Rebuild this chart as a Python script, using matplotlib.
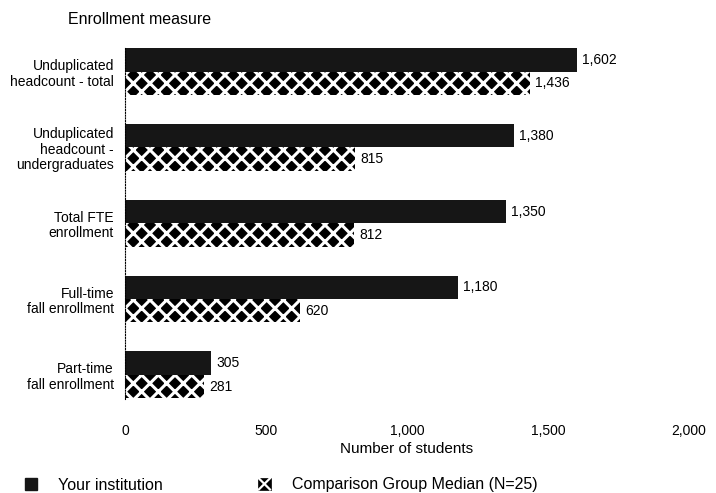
import matplotlib
matplotlib.use("Agg")
import matplotlib.pyplot as plt
from matplotlib.patches import Patch, Rectangle
from matplotlib.lines import Line2D
from matplotlib.legend_handler import HandlerBase
import numpy as np

plt.rcParams['font.family'] = ['Liberation Sans', 'DejaVu Sans']
plt.rcParams['hatch.linewidth'] = 2.2

categories = ["Unduplicated\nheadcount - total",
              "Unduplicated\nheadcount -\nundergraduates",
              "Total FTE\nenrollment",
              "Full-time\nfall enrollment",
              "Part-time\nfall enrollment"]
your_inst = [1602, 1380, 1350, 1180, 305]
comparison = [1436, 815, 812, 620, 281]
xticks = [0, 500, 1000, 1500, 2000]
xtick_labels = ["0", "500", "1,000", "1,500", "2,000"]

DARK = '#161616'


class HandlerBoxX(HandlerBase):
    def create_artists(self, legend, orig_handle, xdescent, ydescent,
                       width, height, fontsize, trans):
        s = min(width, height) * 1.1
        x0 = -xdescent + (width - s) / 2
        y0 = -ydescent + (height - s) / 2
        r = Rectangle((x0, y0), s, s, facecolor='black', edgecolor='black',
                      lw=0.5, transform=trans)
        l1 = Line2D([x0 + 0.5, x0 + s - 0.5], [y0 + 0.5, y0 + s - 0.5],
                    color='white', lw=1.6, transform=trans)
        l2 = Line2D([x0 + 0.5, x0 + s - 0.5], [y0 + s - 0.5, y0 + 0.5],
                    color='white', lw=1.6, transform=trans)
        return [r, l1, l2]


W, H = 716, 493
fig = plt.figure(figsize=(W / 100, H / 100), dpi=100)
ax = fig.add_axes([125 / W, (H - 399) / H, 564 / W, 351.5 / H])

y = np.arange(len(categories))
h = 0.31
ax.barh(y - h / 2, your_inst, height=h, color=DARK, edgecolor=DARK, linewidth=0)
ax.barh(y + h / 2, comparison, height=h, color='black', edgecolor='white', hatch='xx', linewidth=0)

for yi, v in zip(y, your_inst):
    ax.text(v + 18, yi - h / 2, f"{v:,}", va='center', ha='left', fontsize=10)
for yi, v in zip(y, comparison):
    ax.text(v + 18, yi + h / 2, f"{v:,}", va='center', ha='left', fontsize=10)

ax.set_xlim(0, 2000)
ax.set_ylim(len(categories) - 1 + 0.32, -0.32)
ax.set_yticks(y)
ax.set_yticklabels(categories, fontsize=10, ha='right', multialignment='right',
                   linespacing=1.15)
ax.set_xticks(xticks)
ax.set_xticklabels(xtick_labels, fontsize=10)
ax.tick_params(axis='both', length=0)
ax.tick_params(axis='y', pad=8)
ax.tick_params(axis='x', pad=18)
for s in ['top', 'right', 'bottom']:
    ax.spines[s].set_visible(False)
ax.spines['left'].set_linestyle((0, (1, 1.5)))
ax.spines['left'].set_linewidth(0.8)
ax.set_xlabel("Number of students", fontsize=11, labelpad=3)

fig.text(68 / W, 1 - 19 / H, "Enrollment measure", fontsize=11.5, ha='left', va='center')

cmp_handle = Patch(facecolor='black', edgecolor='white')
handles = [Patch(facecolor=DARK, edgecolor=DARK), cmp_handle]
fig.legend(handles, ["Your institution", "Comparison Group Median (N=25)"],
           loc='center left', bbox_to_anchor=(25 / W, 1 - 485 / H), ncol=2, frameon=False,
           fontsize=11.5, columnspacing=6.0, handlelength=0.72, handleheight=0.72,
           handletextpad=1.35, borderpad=0, borderaxespad=0,
           handler_map={cmp_handle: HandlerBoxX()})

fig.savefig("out.png", dpi=100)
